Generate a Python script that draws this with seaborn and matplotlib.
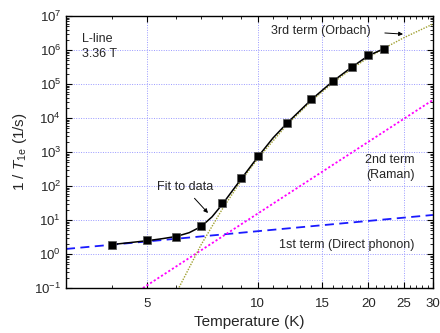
import numpy as np
import pandas as pd
import matplotlib
matplotlib.use("Agg")
import matplotlib.pyplot as plt
import matplotlib.ticker as mticker
import seaborn as sns

# ---- data ----
temp_data = [4, 5, 6, 7, 8, 9, 10, 12, 14, 16, 18, 20, 22]
rate_data = [1.84, 2.58, 3.23, 6.5, 31, 168, 748, 6980, 35500, 1.22e5, 3.12e5, 6.9e5, 1.07e6]

fit_T = [4, 4.5, 5, 5.5, 6, 6.5, 7, 7.5, 8, 8.5, 9, 10, 11, 12, 14, 16, 18, 20, 22]
fit_y = [1.9, 2.18, 2.47, 2.84, 3.3, 4.25, 6.4, 12.4, 29, 70, 160, 720, 2600, 7000,
         35000, 1.2e5, 3.1e5, 6.8e5, 1.08e6]

direct_T = [3, 30]
direct_y = [1.41, 14.1]

raman_T = [4.86, 30]
raman_y = [0.1, 3.4e4]

orbach_T = [6.1, 7, 8, 9, 10, 12, 14, 16, 18, 20, 22, 25, 30]
orbach_y = [0.105, 1.86, 21, 142, 646, 6300, 3.2e4, 1.08e5, 2.8e5, 6.0e5, 1.1e6, 2.3e6, 5.8e6]

x_major = [5, 10, 15, 20, 25, 30]

sns.set_style("ticks")
plt.rcParams['font.family'] = ['Liberation Sans', 'DejaVu Sans']
plt.rcParams['mathtext.fontset'] = 'custom'
plt.rcParams['mathtext.rm'] = 'Liberation Sans'
plt.rcParams['mathtext.it'] = 'Liberation Sans:italic'
plt.rcParams['mathtext.default'] = 'regular'

fig = plt.figure(figsize=(4.4, 3.33), dpi=100)
ax = fig.add_axes([0.15, 0.135, 0.834, 0.817])
ax.set_xscale('log')
ax.set_yscale('log')

grid_c = '#9a9aff'
for v in x_major[:-1]:
    ax.axvline(v, color=grid_c, lw=0.7, ls=(0, (1, 1.5)), zorder=0)
for e in range(0, 7):
    ax.axhline(10.0 ** e, color=grid_c, lw=0.7, ls=(0, (1, 1.5)), zorder=0)

df_dir = pd.DataFrame({'T': direct_T, 'y': direct_y})
df_ram = pd.DataFrame({'T': raman_T, 'y': raman_y})
df_orb = pd.DataFrame({'T': orbach_T, 'y': orbach_y})
df_fit = pd.DataFrame({'T': fit_T, 'y': fit_y})
df_dat = pd.DataFrame({'T': temp_data, 'y': rate_data})

sns.lineplot(data=df_dir, x='T', y='y', ax=ax, color='#1a1aff', lw=1.3,
             linestyle=(0, (5, 3)), sort=False)
sns.lineplot(data=df_ram, x='T', y='y', ax=ax, color='#ff00ff', lw=1.3,
             linestyle=(0, (1.2, 1.2)), sort=False)
sns.lineplot(data=df_orb, x='T', y='y', ax=ax, color='#a0a030', lw=1.0,
             linestyle=(0, (1, 1)), sort=False)
sns.lineplot(data=df_fit, x='T', y='y', ax=ax, color='black', lw=1.1, sort=False)
sns.scatterplot(data=df_dat, x='T', y='y', ax=ax, marker='s', s=28,
                color='black', edgecolor='#555555', linewidth=0.5, zorder=5)

ax.set_xlim(3, 30)
ax.set_ylim(0.1, 1e7)

ax.xaxis.set_major_locator(mticker.FixedLocator(x_major))
ax.xaxis.set_major_formatter(mticker.FixedFormatter([str(v) for v in x_major]))
ax.xaxis.set_minor_locator(mticker.FixedLocator([3, 4, 6, 7, 8, 9, 11, 12, 13, 14, 16, 17, 18, 19,
                                                  21, 22, 23, 24, 26, 27, 28, 29]))
ax.xaxis.set_minor_formatter(mticker.NullFormatter())
ax.yaxis.set_major_locator(mticker.LogLocator(base=10, numticks=20))
ax.yaxis.set_minor_locator(mticker.LogLocator(base=10, subs=np.arange(2, 10), numticks=20))

ax.tick_params(which='both', direction='in', top=True, right=True, labelsize=9.5,
               color='black')
ax.tick_params(axis='x', which='major', pad=7)
ax.tick_params(which='major', length=4, width=0.8)
ax.tick_params(which='minor', length=2, width=0.6)
for s in ax.spines.values():
    s.set_linewidth(1.0)
    s.set_color('black')

ax.set_xlabel('Temperature (K)', fontsize=11, labelpad=4)
ax.set_ylabel(r'1 / $\mathit{T}_{1e}$ (1/s)', fontsize=11, labelpad=4)

fs = 9
ax.text(0.044, 0.915, 'L-line', transform=ax.transAxes, fontsize=fs, va='center')
ax.text(0.044, 0.860, '3.36 T', transform=ax.transAxes, fontsize=fs, va='center')
ax.text(0.695, 0.945, '3rd term (Orbach)', transform=ax.transAxes, fontsize=fs,
        ha='center', va='center')
ax.annotate('', xy=(25.3, 2.9e6), xytext=(21.8, 3.2e6),
            arrowprops=dict(arrowstyle='-|>', color='black', lw=0.7,
                            mutation_scale=6))
ax.text(0.324, 0.372, 'Fit to data', transform=ax.transAxes, fontsize=fs,
        ha='center', va='center')
ax.annotate('', xy=(7.4, 14), xytext=(6.64, 50),
            arrowprops=dict(arrowstyle='-|>', color='black', lw=0.7,
                            mutation_scale=6))
ax.text(0.883, 0.471, '2nd term', transform=ax.transAxes, fontsize=fs,
        ha='center', va='center')
ax.text(0.883, 0.415, '(Raman)', transform=ax.transAxes, fontsize=fs,
        ha='center', va='center')
ax.text(0.764, 0.158, '1st term (Direct phonon)', transform=ax.transAxes, fontsize=fs,
        ha='center', va='center')

fig.savefig('out.png', dpi=100)
